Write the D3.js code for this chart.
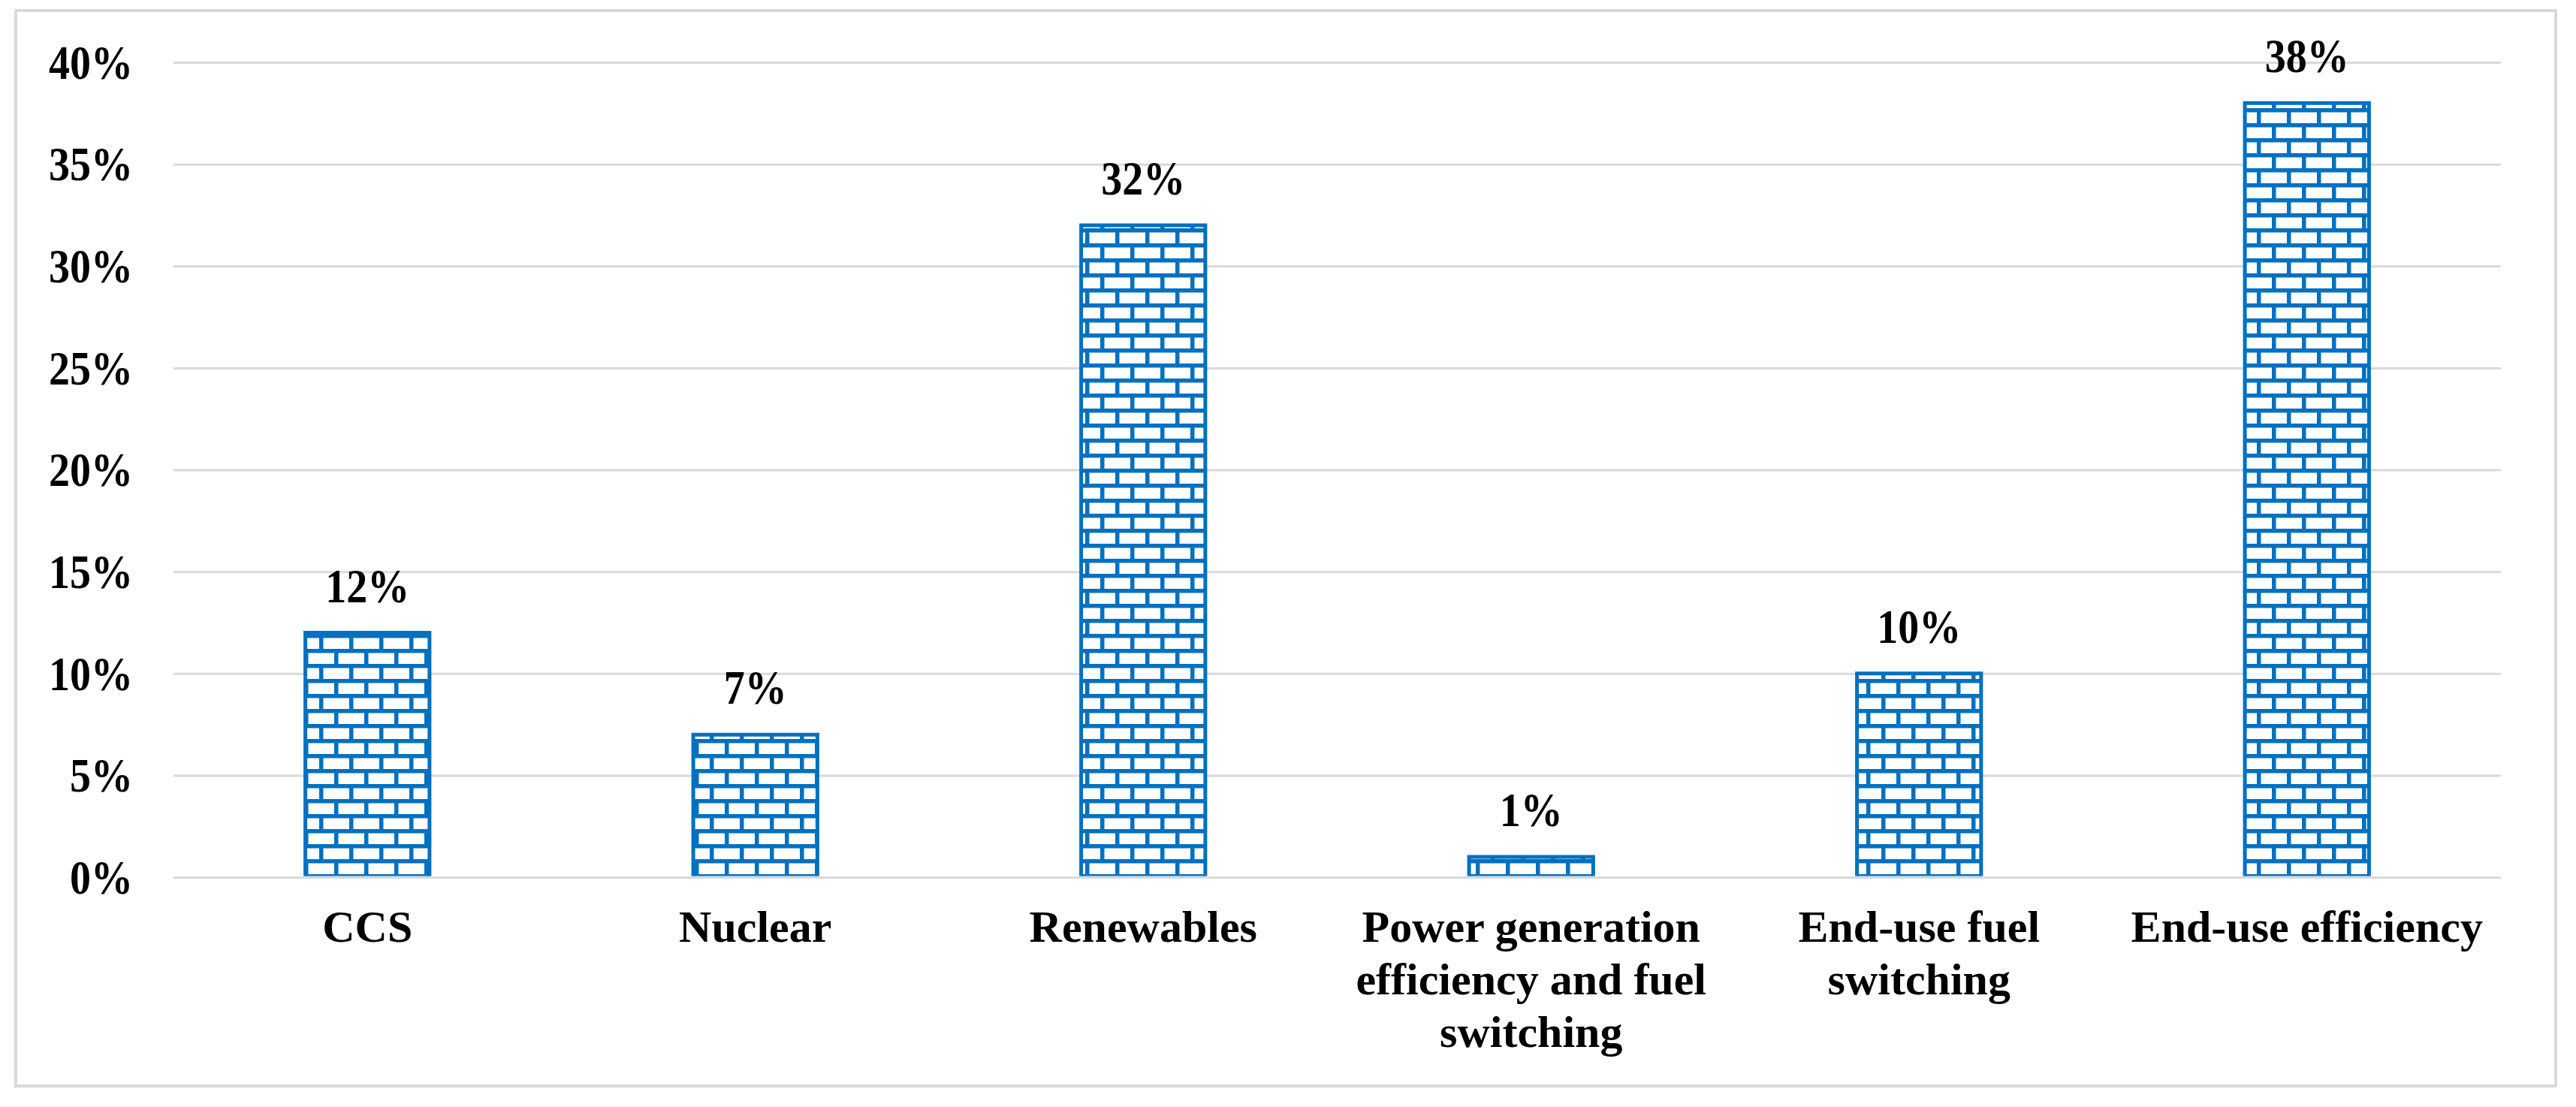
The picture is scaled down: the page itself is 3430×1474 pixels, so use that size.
<!DOCTYPE html>
<html>
<head>
<meta charset="utf-8">
<script src="https://cdn.jsdelivr.net/npm/d3@7"></script>
<style>
  html, body { margin: 0; padding: 0; background: #fff; }
  svg { display: block; }
</style>
</head>
<body>
<svg id="chart" width="3430" height="1474"></svg>
<script>
// ---- data ----
const categories = ["CCS", "Nuclear", "Renewables", "Power generation efficiency and fuel switching", "End-use fuel switching", "End-use efficiency"];
const values = [0.12, 0.07, 0.32, 0.01, 0.10, 0.38];
const yTicks = [0, 0.05, 0.10, 0.15, 0.20, 0.25, 0.30, 0.35, 0.40];

// ---- layout ----
const W = 3430, H = 1474;
const plot = { left: 231, right: 3330, top: 83, bottom: 1168 };
const blue = "#0070c0";
const grid = "#d9d9d9";
const fontFam = "'Liberation Serif', 'Times New Roman', serif";
const numStretch = 1.15;

const svg = d3.select("#chart");
svg.append("rect").attr("width", W).attr("height", H).attr("fill", "#fff");

// outer frame
svg.append("rect")
  .attr("x", 21).attr("y", 14).attr("width", 3382).attr("height", 1432)
  .attr("fill", "none").attr("stroke", grid).attr("stroke-width", 4);

// brick pattern
const defs = svg.append("defs");
const pat = defs.append("pattern")
  .attr("id", "brick").attr("patternUnits", "userSpaceOnUse")
  .attr("x", 25).attr("y", 4).attr("width", 40).attr("height", 40);
pat.append("rect").attr("width", 40).attr("height", 40).attr("fill", "#fff");
const sw = 5.5;
pat.append("rect").attr("x", 0).attr("y", 0).attr("width", 40).attr("height", sw).attr("fill", blue);
pat.append("rect").attr("x", 0).attr("y", 20).attr("width", 40).attr("height", sw).attr("fill", blue);
pat.append("rect").attr("x", 0).attr("y", 0).attr("width", sw).attr("height", 20).attr("fill", blue);
pat.append("rect").attr("x", 20).attr("y", 20).attr("width", sw).attr("height", 20).attr("fill", blue);

// scales
const x = d3.scaleBand().domain(categories)
  .range([plot.left, plot.right]).paddingInner(0.68).paddingOuter(0.34);
const y = d3.scaleLinear().domain([0, 0.4]).range([plot.bottom, plot.top]);

// y axis with gridlines
const yAxis = d3.axisLeft(y).tickValues(yTicks)
  .tickSize(-(plot.right - plot.left)).tickPadding(54)
  .tickFormat(d3.format(".0%"));
const gy = svg.append("g").attr("transform", `translate(${plot.left},0)`).call(yAxis);
gy.select(".domain").remove();
gy.selectAll(".tick line").attr("stroke", grid).attr("stroke-width", 3);
gy.selectAll(".tick text")
  .attr("fill", "#000").attr("font-family", fontFam).attr("font-weight", "bold")
  .attr("font-size", 56).attr("dy", "0.33em")
  .attr("transform", `scale(1,${numStretch})`);

// bars
const y0 = y(0) - 1.5;
const bars = svg.append("g");
categories.forEach((c, i) => {
  const bx = x(c), bw = x.bandwidth(), top = y(values[i]);
  bars.append("rect")
    .attr("x", bx).attr("y", top).attr("width", bw).attr("height", Math.max(0, y0 - top))
    .attr("fill", "url(#brick)");
  bars.append("path")
    .attr("d", `M${bx},${y0}V${top}H${bx + bw}V${y0}`)
    .attr("fill", "none").attr("stroke", blue).attr("stroke-width", 5);
});

// value labels
svg.append("g").selectAll("text").data(values).join("text")
  .attr("transform", (d, i) =>
    `translate(${x(categories[i]) + x.bandwidth() / 2},${y(d) - 41}) scale(1,${numStretch})`)
  .attr("text-anchor", "middle")
  .attr("font-family", fontFam).attr("font-weight", "bold").attr("font-size", 56)
  .attr("fill", "#000")
  .text(d => d3.format(".0%")(d));

// category labels with wrapping
const maxW = 500;
const catG = svg.append("g");
categories.forEach(c => {
  const cx = x(c) + x.bandwidth() / 2;
  const t = catG.append("text")
    .attr("x", cx).attr("y", 1254)
    .attr("text-anchor", "middle")
    .attr("font-family", fontFam).attr("font-weight", "bold").attr("font-size", 60)
    .attr("fill", "#000");
  const words = c.split(" ");
  let line = [];
  let ts = t.append("tspan").attr("x", cx).attr("dy", 0);
  words.forEach(w => {
    line.push(w);
    ts.text(line.join(" "));
    if (ts.node().getComputedTextLength() > maxW && line.length > 1) {
      line.pop();
      ts.text(line.join(" "));
      line = [w];
      ts = t.append("tspan").attr("x", cx).attr("dy", 70).text(w);
    }
  });
});
</script>
</body>
</html>
